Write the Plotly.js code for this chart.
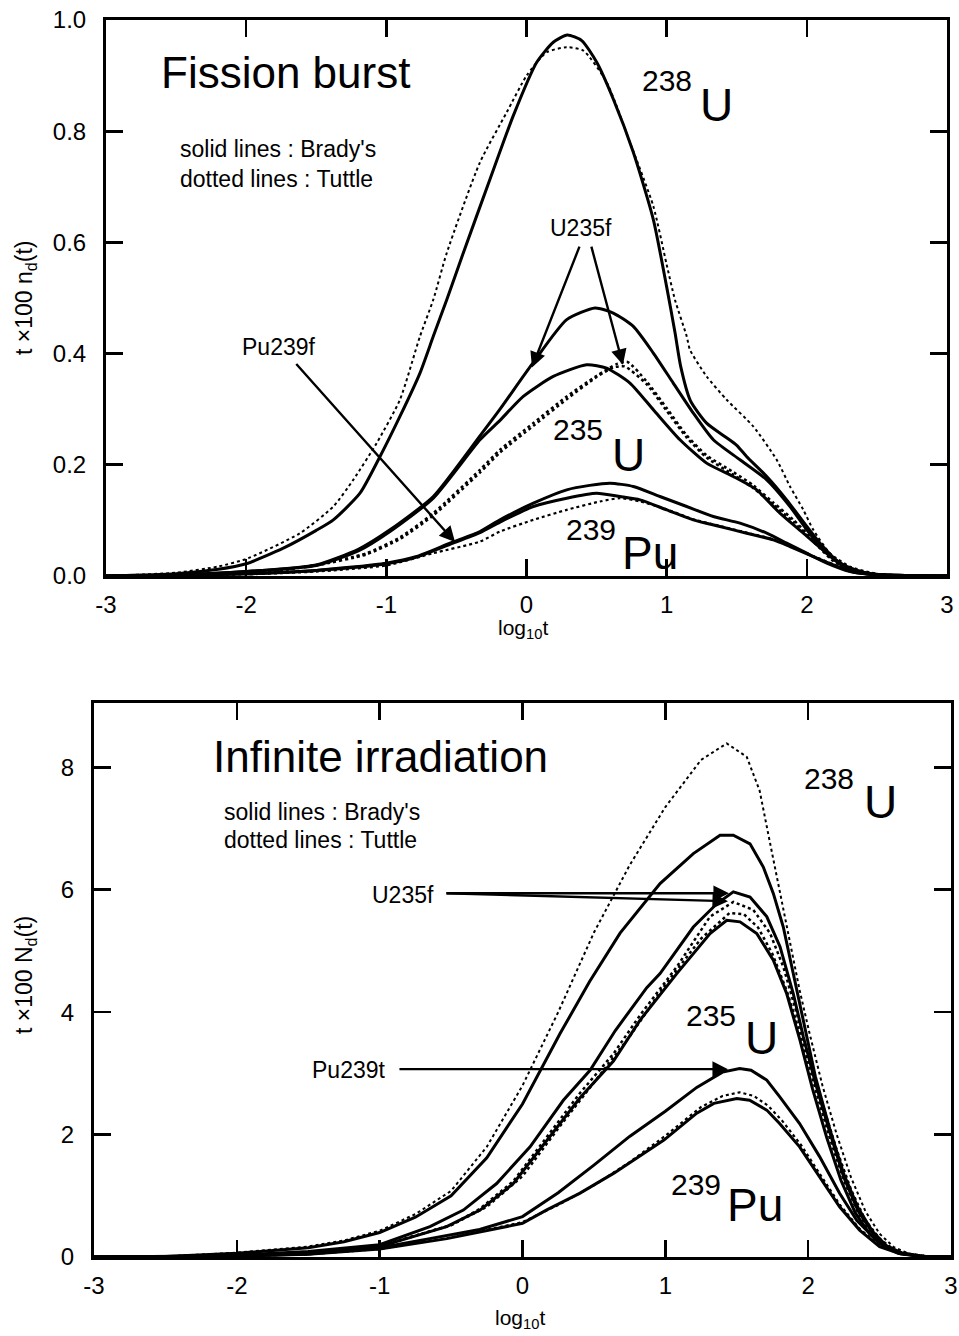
<!DOCTYPE html>
<html>
<head>
<meta charset="utf-8">
<script src="https://cdn.plot.ly/plotly-3.0.1.min.js"></script>
<style>html,body{margin:0;padding:0;background:#fff;}#chart{width:959px;height:1336px;}</style>
</head>
<body>
<div id="chart"></div>
<script>
// ---------- Fission burst (top panel): t x 100 n_d(t) vs log10 t ----------
const burstU238BradyX = [-3,-2.5,-2.2,-2,-1.735,-1.5,-1.378,-1.188,-1.045,-0.903,-0.76,-0.665,-0.569,-0.451,-0.26,-0.094,0.073,0.191,0.291,0.394,0.501,0.619,0.762,0.905,1.0,1.06,1.1,1.17,1.285,1.42,1.5,1.57,1.714,1.856,2.0,2.094,2.237,2.38,2.5,2.7,3];
const burstU238BradyY = [0,0.004,0.012,0.022,0.05,0.082,0.101,0.149,0.215,0.287,0.365,0.431,0.497,0.581,0.714,0.828,0.924,0.96,0.973,0.963,0.924,0.858,0.762,0.641,0.52,0.437,0.377,0.315,0.275,0.25,0.235,0.215,0.179,0.137,0.089,0.059,0.023,0.008,0.003,0.001,0];
const burstU238TuttleX = [-3,-2.5,-2.2,-1.985,-1.616,-1.378,-1.236,-1.069,-0.903,-0.76,-0.665,-0.569,-0.332,-0.141,0.001,0.144,0.287,0.405,0.572,0.738,0.905,1.0,1.059,1.143,1.166,1.285,1.428,1.618,1.785,1.88,1.975,2.046,2.165,2.308,2.5,2.7,3];
const burstU238TuttleY = [0,0.006,0.017,0.032,0.077,0.125,0.173,0.239,0.317,0.431,0.497,0.581,0.744,0.834,0.9,0.942,0.951,0.945,0.888,0.78,0.665,0.56,0.497,0.431,0.407,0.359,0.317,0.269,0.209,0.161,0.119,0.083,0.041,0.017,0.004,0.001,0];
const burstU235fBradyX = [-3,-2.5,-2,-1.5,-1.2,-0.974,-0.665,-0.332,-0.189,0.037,0.287,0.489,0.619,0.762,0.905,1.047,1.19,1.333,1.523,1.714,1.88,2.0,2.117,2.26,2.4,2.6,3];
const burstU235fBradyY = [0,0.002,0.008,0.02,0.048,0.083,0.143,0.252,0.3,0.38,0.461,0.482,0.473,0.449,0.401,0.347,0.293,0.245,0.209,0.173,0.125,0.083,0.047,0.017,0.005,0.001,0];
const burstU235tBradyX = [-3,-2.5,-2,-1.5,-1.2,-0.974,-0.665,-0.332,-0.189,-0.023,0.191,0.429,0.572,0.738,0.905,1.095,1.285,1.475,1.642,1.808,1.975,2.142,2.284,2.45,2.7,3];
const burstU235tBradyY = [0,0.002,0.008,0.019,0.045,0.08,0.14,0.245,0.28,0.323,0.359,0.38,0.374,0.347,0.299,0.245,0.203,0.179,0.155,0.113,0.077,0.041,0.017,0.004,0.001,0];
const burstU235fTuttleX = [-3,-2.5,-2,-1.735,-1.5,-1.14,-0.9,-0.665,-0.332,-0.189,0.049,0.287,0.501,0.65,0.72,0.857,1.0,1.143,1.285,1.475,1.618,1.761,1.904,2.046,2.189,2.33,2.5,2.7,3];
const burstU235fTuttleY = [0,0.002,0.006,0.011,0.02,0.041,0.07,0.113,0.191,0.227,0.275,0.323,0.36,0.382,0.385,0.35,0.302,0.253,0.217,0.187,0.163,0.132,0.101,0.065,0.029,0.01,0.003,0.001,0];
const burstU235tTuttleX = [-3,-2.5,-2,-1.735,-1.5,-1.14,-0.9,-0.665,-0.332,-0.189,0.049,0.287,0.501,0.619,0.7,0.857,1.0,1.143,1.285,1.475,1.618,1.761,1.904,2.046,2.189,2.33,2.5,2.7,3];
const burstU235tTuttleY = [0,0.002,0.006,0.011,0.019,0.039,0.067,0.109,0.186,0.222,0.27,0.318,0.358,0.375,0.377,0.345,0.297,0.249,0.213,0.182,0.158,0.128,0.097,0.062,0.027,0.009,0.003,0.001,0];
const burstPu239fBradyX = [-3,-2.5,-2,-1.5,-1,-0.784,-0.546,-0.332,-0.189,0.049,0.287,0.45,0.596,0.762,0.952,1.143,1.333,1.523,1.714,1.856,1.999,2.142,2.308,2.5,2.7,3];
const burstPu239fBradyY = [0,0.001,0.004,0.01,0.023,0.035,0.059,0.08,0.101,0.131,0.155,0.163,0.167,0.161,0.143,0.125,0.107,0.095,0.077,0.059,0.041,0.023,0.008,0.002,0.0005,0];
const burstPu239tBradyX = [-3,-2.5,-2,-1.5,-1,-0.784,-0.546,-0.332,-0.189,0.049,0.287,0.501,0.667,0.81,1.0,1.19,1.38,1.571,1.761,1.88,2.046,2.189,2.33,2.5,2.7,3];
const burstPu239tBradyY = [0,0.001,0.004,0.01,0.022,0.034,0.057,0.078,0.097,0.125,0.14,0.149,0.143,0.137,0.119,0.101,0.089,0.077,0.065,0.053,0.035,0.02,0.007,0.002,0.0005,0];
const burstPuTuttleX = [-3,-2.5,-2,-1.5,-1,-0.665,-0.332,-0.189,0.049,0.287,0.524,0.667,0.81,1.0,1.19,1.38,1.571,1.761,1.88,2.046,2.189,2.33,2.5,2.7,3];
const burstPuTuttleY = [0,0.001,0.003,0.008,0.019,0.041,0.062,0.08,0.101,0.119,0.134,0.14,0.134,0.12,0.102,0.09,0.078,0.066,0.054,0.036,0.021,0.008,0.002,0.0005,0];

// ---------- Infinite irradiation (bottom panel): t x 100 N_d(t) vs log10 t ----------
const irrU238TuttleX = [-3,-2.5,-2,-1.5,-1.25,-1,-0.75,-0.5,-0.25,0,0.25,0.5,0.75,1.0,1.25,1.43,1.57,1.66,1.73,1.8,1.87,1.94,2.01,2.1,2.2,2.3,2.4,2.5,2.6,2.7,2.85,3];
const irrU238TuttleY = [0,0.01,0.07,0.17,0.27,0.43,0.7,1.08,1.8,2.8,4.0,5.3,6.4,7.35,8.12,8.39,8.17,7.62,6.8,6.0,5.18,4.36,3.65,2.8,2.0,1.3,0.75,0.38,0.16,0.06,0.01,0];
const irrU238BradyX = [-3,-2.5,-2,-1.5,-1.25,-1,-0.75,-0.5,-0.25,0,0.263,0.47,0.683,0.963,1.196,1.383,1.476,1.593,1.686,1.756,1.826,1.896,1.966,2.05,2.15,2.25,2.35,2.45,2.55,2.65,2.8,3];
const irrU238BradyY = [0,0.01,0.06,0.15,0.25,0.4,0.65,1.0,1.62,2.5,3.65,4.5,5.29,6.1,6.59,6.89,6.89,6.75,6.37,5.94,5.39,4.63,3.82,2.95,2.1,1.35,0.8,0.42,0.18,0.07,0.01,0];
const irrU235fBradyX = [-3,-2.5,-2,-1.5,-1,-0.648,-0.414,-0.181,0.053,0.286,0.473,0.65,0.87,0.963,1.196,1.36,1.476,1.593,1.71,1.803,1.896,1.966,2.05,2.15,2.25,2.35,2.45,2.55,2.65,2.8,3];
const irrU235fBradyY = [0,0.005,0.03,0.09,0.2,0.495,0.767,1.2,1.8,2.56,3.05,3.7,4.4,4.63,5.39,5.77,5.965,5.88,5.56,5.07,4.3,3.6,2.85,2.05,1.3,0.75,0.4,0.17,0.06,0.01,0];
const irrU235fTuttleX = [-3,-2.5,-2,-1.5,-1,-0.5,-0.297,-0.064,0.17,0.403,0.637,0.823,1.08,1.313,1.476,1.616,1.733,1.826,1.92,2.0,2.1,2.2,2.3,2.4,2.5,2.6,2.7,2.85,3];
const irrU235fTuttleY = [0,0.004,0.025,0.08,0.18,0.52,0.79,1.24,1.96,2.68,3.32,3.95,4.74,5.56,5.8,5.67,5.29,4.74,3.98,3.3,2.5,1.75,1.1,0.6,0.3,0.12,0.04,0.01,0];
const irrU235tTuttleX = [-3,-2.5,-2,-1.5,-1,-0.5,-0.25,0,0.25,0.5,0.75,1.0,1.25,1.45,1.55,1.65,1.75,1.85,1.95,2.05,2.15,2.25,2.35,2.45,2.55,2.65,2.8,3];
const irrU235tTuttleY = [0,0.004,0.022,0.075,0.175,0.52,0.82,1.32,2.1,2.85,3.6,4.45,5.2,5.62,5.6,5.38,4.95,4.35,3.6,2.75,1.95,1.25,0.72,0.37,0.16,0.06,0.01,0];
const irrU235tBradyX = [-3,-2.5,-2,-1.5,-1,-0.531,-0.297,-0.064,0.17,0.403,0.637,0.73,0.823,1.08,1.313,1.43,1.523,1.64,1.756,1.85,1.943,2.03,2.13,2.23,2.33,2.43,2.53,2.63,2.8,3];
const irrU235tBradyY = [0,0.004,0.02,0.07,0.17,0.495,0.767,1.2,1.91,2.6,3.2,3.54,3.87,4.63,5.285,5.5,5.475,5.285,4.85,4.3,3.54,2.75,1.95,1.25,0.72,0.38,0.17,0.06,0.01,0];
const irrPu239tBradyX = [-3,-2.5,-2,-1.5,-1,-0.65,-0.3,0,0.25,0.5,0.75,1.0,1.22,1.4,1.52,1.6,1.71,1.8,1.94,2.08,2.22,2.34,2.5,2.65,2.8,3];
const irrPu239tBradyY = [0,0.003,0.015,0.05,0.15,0.3,0.45,0.66,1.05,1.5,1.97,2.38,2.77,3.02,3.08,3.05,2.89,2.62,2.18,1.64,1.04,0.6,0.22,0.06,0.01,0];
const irrPuTuttleX = [-3,-2.5,-2,-1.5,-1,-0.5,0,0.25,0.5,0.75,1.0,1.25,1.4,1.52,1.62,1.72,1.82,1.95,2.08,2.22,2.36,2.5,2.65,2.8,3];
const irrPuTuttleY = [0,0.003,0.013,0.045,0.13,0.32,0.57,0.85,1.17,1.55,1.98,2.45,2.63,2.69,2.63,2.47,2.22,1.83,1.36,0.86,0.46,0.19,0.06,0.01,0];
const irrPu239fBradyX = [-3,-2.5,-2,-1.5,-1,-0.53,0,0.17,0.4,0.64,0.99,1.22,1.34,1.5,1.59,1.71,1.8,1.94,2.08,2.22,2.36,2.5,2.65,2.8,3];
const irrPu239fBradyY = [0,0.003,0.013,0.045,0.13,0.3,0.55,0.77,1.04,1.37,1.91,2.35,2.51,2.59,2.56,2.4,2.18,1.8,1.31,0.82,0.44,0.17,0.05,0.01,0];

// Tick values / labels
const xTickVals = [-3,-2,-1,0,1,2,3];
const xTickText = ['-3','-2','-1','0','1','2','3'];
const burstYTicks = [0,0.2,0.4,0.6,0.8,1.0];
const burstYTickText = ['0.0','0.2','0.4','0.6','0.8','1.0'];
const irrYTicks = [0,2,4,6,8];
const irrYTickText = ['0','2','4','6','8'];

const FONT = 'Liberation Sans, Arial, Helvetica, sans-serif';

function solid(x, y, xa, ya, w, shape) {
  return {x: x, y: y, xaxis: xa, yaxis: ya, mode: 'lines', hoverinfo: 'skip',
          line: {color: '#000', width: w || 3, shape: shape || 'linear', smoothing: 0.6}};
}
function dotted(x, y, xa, ya, w, shape) {
  return {x: x, y: y, xaxis: xa, yaxis: ya, mode: 'lines', hoverinfo: 'skip',
          line: {color: '#000', width: w || 2, dash: 'dot', shape: shape || 'linear', smoothing: 0.6}};
}

const traces = [
  dotted(burstU238TuttleX, burstU238TuttleY, 'x', 'y', 2, 'spline'),
  solid(burstU238BradyX, burstU238BradyY, 'x', 'y', 3, 'spline'),
  solid(burstU235fBradyX, burstU235fBradyY, 'x', 'y', 3, 'spline'),
  solid(burstU235tBradyX, burstU235tBradyY, 'x', 'y', 3, 'spline'),
  dotted(burstU235fTuttleX, burstU235fTuttleY, 'x', 'y', 2.5, 'spline'),
  dotted(burstU235tTuttleX, burstU235tTuttleY, 'x', 'y', 2.5, 'spline'),
  solid(burstPu239fBradyX, burstPu239fBradyY, 'x', 'y', 3, 'spline'),
  solid(burstPu239tBradyX, burstPu239tBradyY, 'x', 'y', 3, 'spline'),
  dotted(burstPuTuttleX, burstPuTuttleY, 'x', 'y', 2.2, 'spline'),

  dotted(irrU238TuttleX, irrU238TuttleY, 'x2', 'y2', 2),
  solid(irrU238BradyX, irrU238BradyY, 'x2', 'y2', 3),
  solid(irrU235fBradyX, irrU235fBradyY, 'x2', 'y2', 3),
  dotted(irrU235fTuttleX, irrU235fTuttleY, 'x2', 'y2', 2.5),
  dotted(irrU235tTuttleX, irrU235tTuttleY, 'x2', 'y2', 2.5),
  solid(irrU235tBradyX, irrU235tBradyY, 'x2', 'y2', 3),
  solid(irrPu239tBradyX, irrPu239tBradyY, 'x2', 'y2', 3),
  dotted(irrPuTuttleX, irrPuTuttleY, 'x2', 'y2', 2.2),
  solid(irrPu239fBradyX, irrPu239fBradyY, 'x2', 'y2', 3)
];

const axisBase = {
  showline: true, linecolor: '#000', linewidth: 3, mirror: 'ticks',
  ticks: 'inside', ticklen: 17, tickwidth: 2.6, tickcolor: '#000',
  showgrid: false, zeroline: false, fixedrange: true,
  tickfont: {family: FONT, size: 24, color: '#000'}
};

function txt(text, x, y, size, xa, ya, opts) {
  return Object.assign({text: text, x: x, y: y, xref: xa, yref: ya, showarrow: false,
    font: {family: FONT, size: size, color: '#000'}, xanchor: 'center', yanchor: 'middle'}, opts || {});
}
function arrow(hx, hy, tx, ty, xa, ya) {
  return {text: '', x: hx, y: hy, ax: tx, ay: ty, xref: xa, yref: ya, axref: xa, ayref: ya,
    showarrow: true, arrowhead: 2, arrowsize: 1.3, arrowwidth: 2.4, arrowcolor: '#000', standoff: 0, startstandoff: 0};
}

const annotations = [
  // top panel texts
  txt('Fission burst', -1.716, 0.905, 44, 'x', 'y'),
  txt("solid lines : Brady's", -2.486, 0.768, 23, 'x', 'y', {xanchor: 'left'}),
  txt('dotted lines : Tuttle', -2.486, 0.714, 23, 'x', 'y', {xanchor: 'left'}),
  txt('238', 1.002, 0.892, 30, 'x', 'y'),
  txt('U', 1.355, 0.848, 46, 'x', 'y'),
  txt('U235f', 0.392, 0.625, 23, 'x', 'y'),
  txt('Pu239f', -1.769, 0.411, 23, 'x', 'y'),
  txt('235', 0.364, 0.264, 30, 'x', 'y'),
  txt('U', 0.728, 0.218, 46, 'x', 'y'),
  txt('239', 0.460, 0.084, 30, 'x', 'y'),
  txt('Pu', 0.881, 0.042, 46, 'x', 'y'),
  arrow(0.039, 0.375, 0.382, 0.595, 'x', 'y'),
  arrow(0.688, 0.380, 0.460, 0.595, 'x', 'y'),
  arrow(-0.510, 0.061, -1.652, 0.384, 'x', 'y'),
  // bottom panel texts
  txt('Infinite irradiation', -0.991, 8.18, 44, 'x2', 'y2'),
  txt("solid lines : Brady's", -2.104, 7.27, 23, 'x2', 'y2', {xanchor: 'left'}),
  txt('dotted lines : Tuttle', -2.104, 6.81, 23, 'x2', 'y2', {xanchor: 'left'}),
  txt('238', 2.146, 7.81, 30, 'x2', 'y2'),
  txt('U', 2.503, 7.44, 46, 'x2', 'y2'),
  txt('U235f', -0.840, 5.92, 23, 'x2', 'y2'),
  txt('235', 1.320, 3.94, 30, 'x2', 'y2'),
  txt('U', 1.673, 3.58, 46, 'x2', 'y2'),
  txt('Pu239t', -1.215, 3.06, 23, 'x2', 'y2'),
  txt('239', 1.215, 1.19, 30, 'x2', 'y2'),
  txt('Pu', 1.631, 0.85, 46, 'x2', 'y2'),
  arrow(1.446, 5.943, -0.543, 5.943, 'x2', 'y2'),
  arrow(1.439, 5.812, -0.543, 5.943, 'x2', 'y2'),
  arrow(1.439, 3.069, -0.872, 3.069, 'x2', 'y2'),
  // axis titles
  txt('log<sub>10</sub>t', 523/959, 1 - 629/1336, 21, 'paper', 'paper'),
  txt('log<sub>10</sub>t', 520/959, 1 - 1319/1336, 21, 'paper', 'paper'),
  txt('t ×100 n<sub>d</sub>(t)', 25/959, 1 - 298/1336, 23, 'paper', 'paper', {textangle: -90}),
  txt('t ×100 N<sub>d</sub>(t)', 25/959, 1 - 975/1336, 23, 'paper', 'paper', {textangle: -90})
];

const layout = {
  width: 959, height: 1336,
  margin: {l: 0, r: 0, t: 0, b: 0, pad: 0},
  paper_bgcolor: '#fff', plot_bgcolor: '#fff',
  showlegend: false, hovermode: false,
  font: {family: FONT, color: '#000'},
  xaxis: Object.assign({}, axisBase, {domain: [106/959, 947/959], range: [-3, 3], tickvals: xTickVals, ticktext: xTickText, anchor: 'y', ticklabelstandoff: 5}),
  yaxis: Object.assign({}, axisBase, {domain: [1 - 576/1336, 1 - 20/1336], range: [0, 1.0], tickvals: burstYTicks, ticktext: burstYTickText, anchor: 'x', ticklabelstandoff: 12}),
  xaxis2: Object.assign({}, axisBase, {domain: [94/959, 951/959], range: [-3, 3], tickvals: xTickVals, ticktext: xTickText, anchor: 'y2', ticklabelstandoff: 5}),
  yaxis2: Object.assign({}, axisBase, {domain: [1 - 1257/1336, 1 - 703/1336], range: [0, 9.05], tickvals: irrYTicks, ticktext: irrYTickText, anchor: 'x2', ticklabelstandoff: 12}),
  annotations: annotations
};

Plotly.newPlot('chart', traces, layout, {staticPlot: true, displayModeBar: false});
</script>
</body>
</html>
